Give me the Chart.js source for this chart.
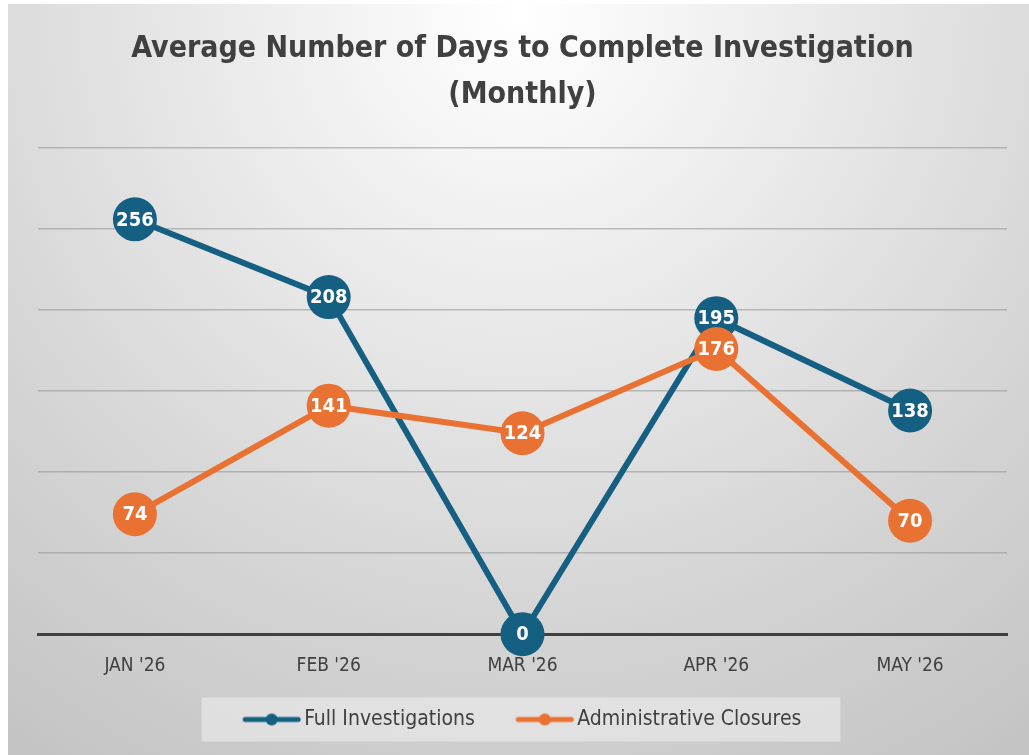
<!DOCTYPE html>
<html>
<head>
<meta charset="utf-8">
<script src="https://cdn.jsdelivr.net/npm/chart.js@4"></script>
<style>
html,body{margin:0;padding:0;background:#ffffff;}
#wrap{position:absolute;left:8px;top:4px;width:1021px;height:751px;}
</style>
</head>
<body>
<div id="wrap"><canvas id="c" width="1021" height="751"></canvas></div>
<script>
const categories = ["JAN '26", "FEB '26", "MAR '26", "APR '26", "MAY '26"];
const fullInvestigations = [256, 208, 0, 195, 138];
const adminClosures = [74, 141, 124, 176, 70];
const seriesNames = ["Full Investigations", "Administrative Closures"];
const titleLines = ["Average Number of Days to Complete Investigation", "(Monthly)"];

const BLUE = '#156082';
const ORANGE = '#E97132';
const FONT = "'Liberation Sans Narrow', 'DejaVu Sans Condensed', 'Roboto', sans-serif";
const NBSP = '\u00A0';

// legend marker: a line with a dot
function legendMarker(color) {
  const cv = document.createElement('canvas');
  cv.width = 67; cv.height = 14;
  const g = cv.getContext('2d');
  g.strokeStyle = color; g.lineWidth = 5; g.lineCap = 'round';
  g.beginPath(); g.moveTo(10, 7); g.lineTo(63, 7); g.stroke();
  g.fillStyle = color;
  g.beginPath(); g.arc(36.5, 7, 6, 0, Math.PI * 2); g.fill();
  return cv;
}

const bgPlugin = {
  id: 'bg',
  beforeDraw(chart) {
    const ctx = chart.ctx, w = chart.width, h = chart.height;
    ctx.save();
    const gr = ctx.createRadialGradient(w / 2, 10, 0, w / 2, 10, 900);
    gr.addColorStop(0, '#ffffff');
    gr.addColorStop(0.65, '#d6d6d6');
    gr.addColorStop(1, '#c3c3c3');
    ctx.fillStyle = gr;
    ctx.fillRect(0, 0, w, h);
    const lg = chart.legend;
    if (lg && lg.legendHitBoxes && lg.legendHitBoxes.length) {
      let x0 = Infinity, x1 = -Infinity, yc = 0;
      lg.legendHitBoxes.forEach(b => { x0 = Math.min(x0, b.left); x1 = Math.max(x1, b.left + b.width); yc = b.top + b.height / 2; });
      ctx.fillStyle = 'rgba(240,240,240,0.55)';
      ctx.fillRect(x0 - 42, yc - 22, (x1 - x0) + 81, 44);
    }
    ctx.restore();
  }
};

const labelPlugin = {
  id: 'pointLabels',
  afterDatasetDraw(chart, args) {
    const ctx = chart.ctx;
    const meta = args.meta;
    const ds = chart.data.datasets[args.index];
    ctx.save();
    ctx.fillStyle = '#ffffff';
    ctx.font = "bold 20px " + FONT;
    ctx.textAlign = 'center';
    ctx.textBaseline = 'middle';
    meta.data.forEach((pt, i) => {
      ctx.fillText(String(ds.data[i]), pt.x, pt.y + 1);
    });
    ctx.restore();
  }
};

function lineDataset(label, data, color, order) {
  return {
    label: label,
    data: data,
    borderColor: color,
    backgroundColor: color,
    borderWidth: 6,
    pointRadius: 22,
    pointHoverRadius: 22,
    pointBorderWidth: 0,
    pointBackgroundColor: color,
    pointStyle: 'circle',
    tension: 0,
    clip: false,
    order: order
  };
}

new Chart(document.getElementById('c'), {
  type: 'line',
  data: {
    labels: categories,
    datasets: [
      lineDataset(seriesNames[0], fullInvestigations, BLUE, 2),
      lineDataset(seriesNames[1], adminClosures, ORANGE, 1)
    ]
  },
  options: {
    responsive: false,
    animation: false,
    events: [],
    layout: { autoPadding: false, padding: { left: 30, right: 22, top: 0, bottom: 15 } },
    plugins: {
      tooltip: { enabled: false },
      title: {
        display: true,
        text: titleLines,
        color: '#404040',
        font: { family: FONT, size: 30, weight: 'bold', lineHeight: 46 / 30 },
        padding: { top: 22, bottom: 30 }
      },
      legend: {
        display: true,
        position: 'bottom',
        labels: {
          color: '#404040',
          font: { family: FONT, size: 21 },
          usePointStyle: true,
          pointStyleWidth: 50,
          boxHeight: 14,
          padding: 12,
          sort: (a, b) => a.datasetIndex - b.datasetIndex,
          generateLabels(chart) {
            const n = chart.data.datasets.length;
            return chart.data.datasets.map((d, i) => ({
              text: d.label + (i < n - 1 ? NBSP.repeat(5) : ''),
              datasetIndex: i,
              fillStyle: d.borderColor,
              strokeStyle: d.borderColor,
              lineWidth: 0,
              pointStyle: legendMarker(d.borderColor),
              fontColor: '#404040',
              hidden: false
            }));
          }
        }
      }
    },
    scales: {
      x: {
        offset: true,
        grid: { display: false, drawTicks: false },
        border: { display: true, color: '#404040', width: 3 },
        ticks: { color: '#404040', font: { family: FONT, size: 19 }, padding: 20 }
      },
      y: {
        min: 0,
        max: 300,
        ticks: { display: false, stepSize: 50 },
        border: { display: false },
        grid: {
          drawTicks: false,
          lineWidth: 1.5,
          color: (c) => (c.tick && c.tick.value === 0) ? 'rgba(0,0,0,0)' : 'rgba(150,150,150,0.6)'
        }
      }
    }
  },
  plugins: [bgPlugin, labelPlugin]
});
</script>
</body>
</html>
